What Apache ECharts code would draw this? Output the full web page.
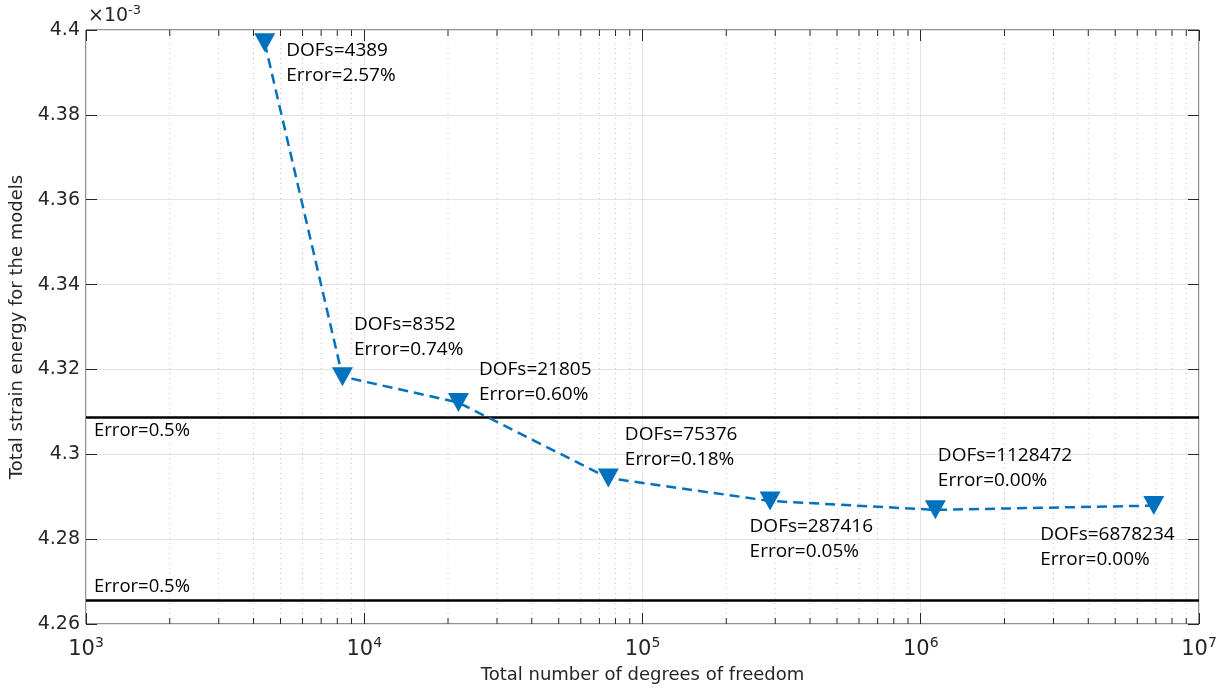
<!DOCTYPE html>
<html>
<head>
<meta charset="utf-8">
<script src="https://cdn.jsdelivr.net/npm/echarts@6/dist/echarts.min.js"></script>
<style>
  html, body { margin: 0; padding: 0; background: #fff; }
  #chart { width: 1224px; height: 692px; }
</style>
</head>
<body>
<div id="chart"></div>
<script>
// model sizes and total strain energy (x 1e-3)
var dofs = [4389, 8352, 21805, 75376, 287416, 1128472, 6878234];
var energy = [4.3970, 4.3183, 4.3122, 4.2944, 4.2890, 4.2869, 4.2879];
var errors = ['2.57%', '0.74%', '0.60%', '0.18%', '0.05%', '0.00%', '0.00%'];
// +/- 0.5% band
var bandValues = [4.3088, 4.2657];
var bandLabels = ['Error=0.5%', 'Error=0.5%'];
// log minor ticks
var decades = [1e3, 1e4, 1e5, 1e6];
var minorSteps = [2, 3, 4, 5, 6, 7, 8, 9];

var yMin = 4.26, yMax = 4.4;

// label placement for each point, relative to the marker box
var labelPos = [[32, 5], [22, -55], [31, -36], [27, -46], [-10, 23], [13, -57], [-103, 26]];

var minorTicks = [];
decades.forEach(function (d) {
  minorSteps.forEach(function (m) { minorTicks.push([d * m]); });
});

var txtFont = '"Open Sans", sans-serif';
var axisFont = '"DejaVu Sans", sans-serif';

var chart = echarts.init(document.getElementById('chart'), null, { renderer: 'canvas' });

var points = dofs.map(function (d, i) {
  return {
    value: [d, energy[i]],
    label: {
      show: true,
      position: labelPos[i],
      formatter: 'DOFs=' + d + '\nError=' + errors[i]
    }
  };
});

var option = {
  animation: false,
  backgroundColor: '#fff',
  grid: {
    left: 86, right: 25, top: 30, bottom: 68,
    show: true,
    borderColor: '#262626',
    borderWidth: 1,
    backgroundColor: 'transparent'
  },
  xAxis: [{
    type: 'log',
    logBase: 10,
    min: 1000,
    max: 1e7,
    name: 'Total number of degrees of freedom',
    nameLocation: 'middle',
    nameGap: 42,
    nameTextStyle: { fontFamily: axisFont, fontSize: 18, color: '#262626' },
    axisLine: { show: false },
    axisTick: { show: true, inside: true, length: 11, lineStyle: { color: '#262626' } },
    splitLine: { show: true, lineStyle: { color: '#e3e3e3', width: 1 } },
    axisLabel: {
      margin: 12,
      formatter: function (v) {
        return '{b|10}{s|' + Math.round(Math.log10(v)) + '}';
      },
      rich: {
        b: { fontFamily: axisFont, fontSize: 21, color: '#262626' },
        s: { fontFamily: axisFont, fontSize: 14, color: '#262626', padding: [0, 0, 14, 0] }
      }
    }
  }, {
    type: 'log',
    logBase: 10,
    min: 1000,
    max: 1e7,
    position: 'top',
    axisLine: { show: false },
    axisTick: { show: true, inside: true, length: 11, lineStyle: { color: '#262626' } },
    axisLabel: { show: false },
    splitLine: { show: false }
  }],
  yAxis: [{
    type: 'value',
    min: yMin,
    max: yMax,
    interval: 0.02,
    name: 'Total strain energy for the models',
    nameLocation: 'middle',
    nameGap: 57,
    nameTextStyle: { fontFamily: axisFont, fontSize: 18, color: '#262626' },
    axisLine: { show: false },
    axisTick: { show: true, inside: true, length: 11, lineStyle: { color: '#262626' } },
    splitLine: { show: true, lineStyle: { color: '#e3e3e3', width: 1 } },
    axisLabel: {
      margin: 6,
      fontFamily: axisFont,
      fontSize: 19,
      color: '#262626',
      formatter: function (v) { return String(parseFloat(v.toFixed(2))); }
    }
  }, {
    type: 'value',
    min: yMin,
    max: yMax,
    interval: 0.02,
    position: 'right',
    axisLine: { show: false },
    axisTick: { show: true, inside: true, length: 11, lineStyle: { color: '#262626' } },
    axisLabel: { show: false },
    splitLine: { show: false }
  }],
  graphic: [{
    type: 'text',
    left: 88,
    top: 4,
    style: {
      text: '{m|\u00d710}{e|-3}',
      rich: {
        m: { fontFamily: axisFont, fontSize: 19, fill: '#262626' },
        e: { fontFamily: axisFont, fontSize: 13, fill: '#262626', padding: [0, 0, 12, 0] }
      }
    }
  }],
  series: [{
    // minor grid lines and ticks of the log axis
    type: 'custom',
    silent: true,
    z: 1,
    data: minorTicks,
    renderItem: function (params, api) {
      var bottom = api.coord([api.value(0), yMin]);
      var top = api.coord([api.value(0), yMax]);
      var tickStyle = { stroke: '#262626', lineWidth: 1 };
      return {
        type: 'group',
        children: [{
          type: 'line',
          shape: { x1: bottom[0], y1: bottom[1], x2: top[0], y2: top[1] },
          style: { stroke: '#c4c4c4', lineWidth: 1, lineDash: [1, 4] }
        }, {
          type: 'line',
          shape: { x1: bottom[0], y1: bottom[1], x2: bottom[0], y2: bottom[1] - 6 },
          style: tickStyle
        }, {
          type: 'line',
          shape: { x1: top[0], y1: top[1], x2: top[0], y2: top[1] + 6 },
          style: tickStyle
        }]
      };
    }
  }, {
    // 0.5% error band
    type: 'line',
    data: [],
    z: 3,
    markLine: {
      silent: true,
      symbol: 'none',
      animation: false,
      precision: 4,
      lineStyle: { color: '#000', width: 2.5, type: 'solid' },
      data: bandValues.map(function (v, i) {
        return {
          yAxis: v,
          label: {
            show: true,
            formatter: bandLabels[i],
            position: i === 0 ? 'insideStartBottom' : 'insideStartTop',
            distance: [8, 4],
            fontFamily: txtFont,
            fontSize: 18.5,
            color: '#000'
          }
        };
      })
    }
  }, {
    type: 'line',
    z: 5,
    data: points,
    symbol: 'triangle',
    symbolRotate: 180,
    symbolSize: [21, 19],
    itemStyle: { color: '#0072BD' },
    lineStyle: { color: '#0072BD', width: 2.5, type: [10, 6] },
    label: {
      fontFamily: txtFont,
      fontSize: 19,
      lineHeight: 25,
      color: '#000',
      align: 'left',
      verticalAlign: 'top'
    }
  }]
};

chart.setOption(option);
</script>
</body>
</html>
